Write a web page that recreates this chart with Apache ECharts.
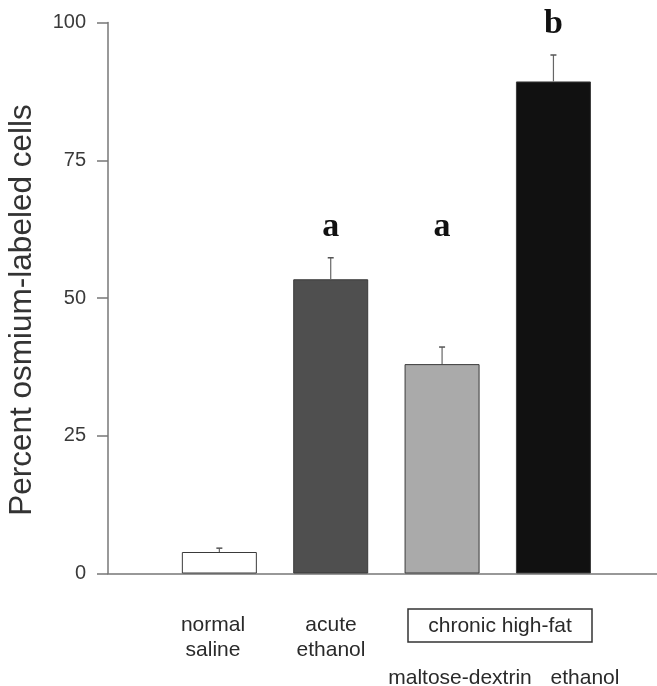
<!DOCTYPE html>
<html>
<head>
<meta charset="utf-8">
<script src="https://cdn.jsdelivr.net/npm/echarts@6/dist/echarts.min.js"></script>
<style>html,body{margin:0;padding:0;background:#fff;}#c{width:657px;height:686px;}</style>
</head>
<body>
<div id="c"></div>
<script>
const categories = ['normal saline', 'acute ethanol', 'maltose-dextrin', 'ethanol'];
const positions = [1, 2, 3, 4];
const means = [3.9, 53.4, 38.0, 89.3];
const errors = [0.7, 3.9, 3.1, 4.8];
const letters = ['', 'a', 'a', 'b'];
const letterY = [0, 62.9, 62.9, 99.6];
const barColors = ['#ffffff', '#4f4f4f', '#aaaaaa', '#111111'];
const yTicks = [0, 25, 50, 75, 100];

const chart = echarts.init(document.getElementById('c'), null, {renderer: 'canvas'});
const FONT = 'Liberation Sans, Arial, sans-serif';
const TXT = '#2a2a2a';

const option = {
  backgroundColor: '#fff',
  animation: false,
  grid: {left: 108, right: 0, top: 22.5, bottom: 112.5},
  xAxis: {
    type: 'value', min: 0, max: 4.93,
    axisLine: {show: true, onZero: false, lineStyle: {color: '#777', width: 1.5}},
    axisTick: {show: false}, axisLabel: {show: false}, splitLine: {show: false}
  },
  yAxis: {
    type: 'value', min: yTicks[0], max: yTicks[yTicks.length - 1], interval: 25,
    axisLine: {show: true, lineStyle: {color: '#777', width: 1.5}},
    axisTick: {show: true, inside: false, length: 11, lineStyle: {color: '#777', width: 1.5}},
    axisLabel: {color: '#3a3a3a', fontSize: 20, fontFamily: FONT, margin: 22},
    splitLine: {show: false}
  },
  series: [
    {
      type: 'bar',
      barWidth: 75,
      data: positions.map((p, i) => ({
        value: [p, means[i]],
        itemStyle: {color: barColors[i], borderColor: '#3a3a3a', borderWidth: 1}
      }))
    },
    {
      type: 'custom',
      renderItem: function (params, api) {
        const x = api.value(0);
        const top = api.coord([x, api.value(1) + api.value(2)]);
        const base = api.coord([x, api.value(1)]);
        return {
          type: 'group',
          children: [
            {type: 'line', shape: {x1: top[0], y1: top[1], x2: base[0], y2: base[1]}, style: {stroke: '#666', lineWidth: 1.2}},
            {type: 'line', shape: {x1: top[0] - 3, y1: top[1], x2: top[0] + 3, y2: top[1]}, style: {stroke: '#555', lineWidth: 1.5}}
          ]
        };
      },
      data: positions.map((p, i) => [p, means[i], errors[i]]),
      z: 3
    },
    {
      type: 'custom',
      renderItem: function (params, api) {
        const i = params.dataIndex;
        const pt = api.coord([api.value(0), api.value(1)]);
        const t = letters[i];
        if (!t) return null;
        return {
          type: 'text', x: pt[0], y: pt[1],
          style: {
            text: t, fill: '#111',
            font: 'bold 34px Liberation Serif, Times New Roman, serif',
            textAlign: 'center', textVerticalAlign: 'middle'
          }
        };
      },
      data: positions.map((p, i) => [p, letterY[i]]),
      z: 4
    }
  ],
  graphic: [
    {type: 'text', x: 22, y: 310, rotation: Math.PI / 2,
      style: {text: 'Percent osmium-labeled cells', font: '31.5px ' + FONT, fill: '#333', textAlign: 'center', textVerticalAlign: 'middle'}},
    {type: 'text', x: 213, y: 637.5,
      style: {text: 'normal\nsaline', font: '21px ' + FONT, fill: TXT, textAlign: 'center', textVerticalAlign: 'middle', lineHeight: 25}},
    {type: 'text', x: 331, y: 637.5,
      style: {text: 'acute\nethanol', font: '21px ' + FONT, fill: TXT, textAlign: 'center', textVerticalAlign: 'middle', lineHeight: 25}},
    {type: 'rect', shape: {x: 408, y: 609, width: 184, height: 33},
      style: {fill: 'none', stroke: '#333', lineWidth: 1.5}},
    {type: 'text', x: 500, y: 626,
      style: {text: 'chronic high-fat', font: '21px ' + FONT, fill: TXT, textAlign: 'center', textVerticalAlign: 'middle'}},
    {type: 'text', x: 460, y: 678,
      style: {text: categories[2], font: '21px ' + FONT, fill: TXT, textAlign: 'center', textVerticalAlign: 'middle'}},
    {type: 'text', x: 585, y: 678,
      style: {text: categories[3], font: '21px ' + FONT, fill: TXT, textAlign: 'center', textVerticalAlign: 'middle'}}
  ]
};
chart.setOption(option);
</script>
</body>
</html>
